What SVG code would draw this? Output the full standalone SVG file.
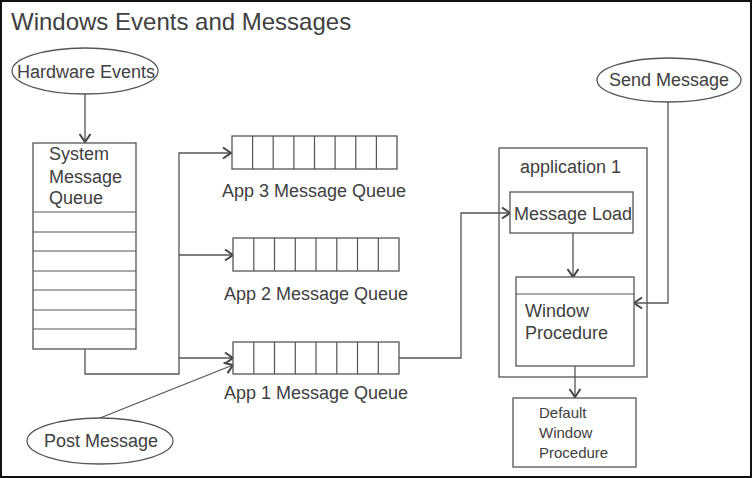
<svg xmlns="http://www.w3.org/2000/svg" width="752" height="478" viewBox="0 0 752 478">
<defs>
<style>
text{font-family:"Liberation Sans",Arial,sans-serif;fill:#404040}
.t18{font-size:18px}
.t15{font-size:15px}
.box{fill:#fff;stroke:#555;stroke-width:1.3}
.ln{fill:none;stroke:#555;stroke-width:1.3}
.cell{stroke:#555;stroke-width:1.2}
</style>
<marker id="arr" markerUnits="userSpaceOnUse" markerWidth="12" markerHeight="14" viewBox="0 0 12 14" refX="10" refY="7" orient="auto">
<path d="M2,1.5 L10,7 L2,12.5" fill="none" stroke="#444" stroke-width="2"/>
</marker>
</defs>
<rect x="0" y="0" width="752" height="478" fill="#fff"/>
<rect x="1" y="1" width="750" height="476" fill="none" stroke="#111" stroke-width="2"/>
<text x="11" y="30" style="font-size:24px">Windows Events and Messages</text>

<g id="connectors">
<path class="ln" d="M85,94 V142" marker-end="url(#arr)"/>
<path class="ln" d="M85,349 V374 H179 V153 H231" marker-end="url(#arr)"/>
<path class="ln" d="M179,255 H233" marker-end="url(#arr)"/>
<path class="ln" d="M179,358 H233" marker-end="url(#arr)"/>
<path class="ln" d="M100,418 L233,365" marker-end="url(#arr)"/>
<path class="ln" d="M399,358 H461 V213 H510" marker-end="url(#arr)"/>
<path class="ln" d="M573,233 V277" marker-end="url(#arr)"/>
<path class="ln" d="M668,102 V303 H634" marker-end="url(#arr)"/>
<path class="ln" d="M575,366 V397" marker-end="url(#arr)"/>
</g>

<g id="hardware-events">
<ellipse class="box" cx="85" cy="71" rx="73" ry="23"/>
<text class="t18" x="17" y="78">Hardware Events</text>
</g>

<g id="system-message-queue">
<rect class="box" x="33" y="143" width="103" height="206"/>
<path class="cell" d="M33,212 H136 M33,232 H136 M33,251 H136 M33,271 H136 M33,290 H136 M33,310 H136 M33,329 H136"/>
<text class="t18" x="49" y="160">System</text>
<text class="t18" x="49" y="183">Message</text>
<text class="t18" x="49" y="204">Queue</text>
</g>

<g id="app3-queue">
<rect class="box" x="232" y="136" width="165" height="33"/>
<path class="cell" d="M252.6,136 V169 M273.2,136 V169 M293.9,136 V169 M314.5,136 V169 M335.1,136 V169 M355.8,136 V169 M376.4,136 V169"/>
<text class="t18" x="222" y="197">App 3 Message Queue</text>
</g>

<g id="app2-queue">
<rect class="box" x="233" y="238" width="166" height="33"/>
<path class="cell" d="M253.8,238 V271 M274.5,238 V271 M295.3,238 V271 M316,238 V271 M336.8,238 V271 M357.5,238 V271 M378.3,238 V271"/>
<text class="t18" x="224" y="300">App 2 Message Queue</text>
</g>

<g id="app1-queue">
<rect class="box" x="233" y="342" width="166" height="32"/>
<path class="cell" d="M253.8,342 V374 M274.5,342 V374 M295.3,342 V374 M316,342 V374 M336.8,342 V374 M357.5,342 V374 M378.3,342 V374"/>
<text class="t18" x="224" y="399">App 1 Message Queue</text>
</g>

<g id="post-message">
<ellipse class="box" cx="100" cy="441" rx="73" ry="23"/>
<text class="t18" x="44" y="447">Post Message</text>
</g>

<g id="send-message">
<ellipse class="box" cx="669" cy="80" rx="72" ry="22"/>
<text class="t18" x="609" y="86">Send Message</text>
</g>

<g id="application-1">
<rect class="ln" x="499" y="148" width="148" height="229"/>
<text class="t18" x="520" y="173">application 1</text>
</g>

<g id="message-load">
<rect class="box" x="510" y="192" width="123" height="41"/>
<text class="t18" x="514" y="220">Message Load</text>
</g>

<g id="window-procedure">
<rect class="box" x="516" y="277" width="118" height="89"/>
<path class="cell" d="M516,294 H634"/>
<text class="t18" x="525" y="317">Window</text>
<text class="t18" x="525" y="339">Procedure</text>
</g>

<g id="default-window-procedure">
<rect class="box" x="513" y="398" width="123" height="69"/>
<text class="t15" x="539" y="418">Default</text>
<text class="t15" x="539" y="438">Window</text>
<text class="t15" x="539" y="458">Procedure</text>
</g>
</svg>
